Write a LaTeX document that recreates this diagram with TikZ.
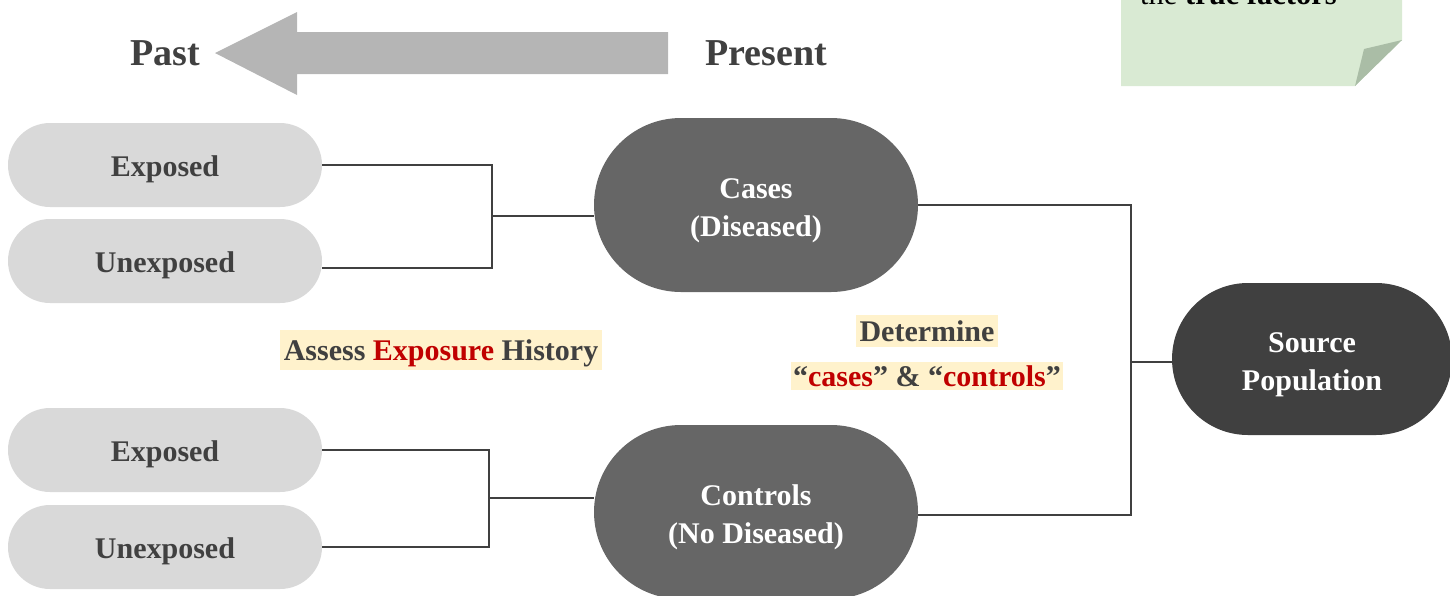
\documentclass[tikz,border=0pt]{standalone}
\usepackage{fontspec}
\setmainfont{Liberation Serif}
\usetikzlibrary{backgrounds}
\definecolor{txt}{HTML}{404040}
\definecolor{lightpill}{HTML}{D9D9D9}
\definecolor{midgray}{HTML}{666666}
\definecolor{darkgray}{HTML}{404040}
\definecolor{hlyellow}{HTML}{FFF2CC}
\definecolor{redtxt}{HTML}{C00000}
\definecolor{arrowgray}{HTML}{B5B5B5}
\definecolor{notegreen}{HTML}{D9EAD3}
\definecolor{notefold}{HTML}{AABDA6}
\begin{document}
\begin{tikzpicture}[x=1pt,y=-1pt,
  lbl/.style={font=\bfseries\fontsize{30}{38}\selectfont, text=txt, align=center},
  pill/.style={rectangle, rounded corners=42pt, minimum width=314pt, minimum height=84pt, inner sep=0pt, fill=lightpill, lbl, text height=26pt, text depth=2.5pt},
  bigpill/.style={rectangle, rounded corners=87pt, minimum width=324pt, minimum height=174pt, inner sep=0pt, fill=midgray, lbl, text=white, text height=64pt, text depth=0.5pt},
  conn/.style={draw=txt, line width=1.5pt},
  hl/.style={fill=hlyellow, inner xsep=4pt, inner ysep=4pt, lbl},
  timelbl/.style={font=\bfseries\fontsize{38}{44}\selectfont, text=txt}]
\useasboundingbox (0,0) rectangle (1450,595);
\clip (0,0) rectangle (1450,595);

% note
\fill[notegreen] (1121,-10) -- (1402,-10) -- (1402,40) -- (1355,86) -- (1121,86) -- cycle;
\fill[notefold] (1402,40) -- (1364,49) -- (1355,86) -- cycle;
\node[anchor=base west, inner sep=0pt, font=\fontsize{30.5}{36}\selectfont, text=black] (note) at (1140,4) {the \textbf{true factors}};

% time arrow
\fill[arrowgray] (668,32) -- (297,32) -- (297,12) -- (215,53) -- (297,95) -- (297,74) -- (668,74) -- cycle;
\node[timelbl] (past) at (165,53) {Past};
\node[timelbl] (present) at (766,53) {Present};

% exposure nodes
\node[pill] (e1) at (165,165) {Exposed};
\node[pill] (u1) at (165,261) {Unexposed};
\node[pill] (e2) at (165,450) {Exposed};
\node[pill] (u2) at (165,547) {Unexposed};

\node[bigpill] (cases) at (756,205) {Cases\\(Diseased)};
\node[bigpill] (controls) at (756,512) {Controls\\(No Diseased)};
\node[bigpill, rounded corners=76pt, minimum width=280pt, minimum height=152pt, fill=darkgray] (source) at (1312,359) {Source\\Population};

% labels
\node[hl, text height=26.75pt, text depth=5.25pt] (assess) at (441,350) {Assess \textcolor{redtxt}{Exposure} History};
\node[hl, inner ysep=5.5pt] (determine) at (927,331) {Determine};
\node[hl, inner xsep=2pt, inner ysep=3.5pt] (cc) at (927,376) {“\textcolor{redtxt}{cases}” \& “\textcolor{redtxt}{controls}”};

% connectors
\coordinate (b1) at (492,216);
\coordinate (b2) at (489,498);
\coordinate (b3) at (1131,362);
\begin{scope}[on background layer]
\draw[conn] (e1.east) -| (b1);
\draw[conn] ([yshift=-7pt]u1.east) -| (b1);
\draw[conn] (b1) -- (b1 -| cases.west);
\draw[conn] (e2.east) -| (b2);
\draw[conn] (u2.east) -| (b2);
\draw[conn] (b2) -- (b2 -| controls.west);
\draw[conn] (cases.east) -| (b3);
\draw[conn] ([yshift=-3pt]controls.east) -| (b3);
\draw[conn] (b3) -- (b3 -| source.west);
\end{scope}
\end{tikzpicture}
\end{document}
